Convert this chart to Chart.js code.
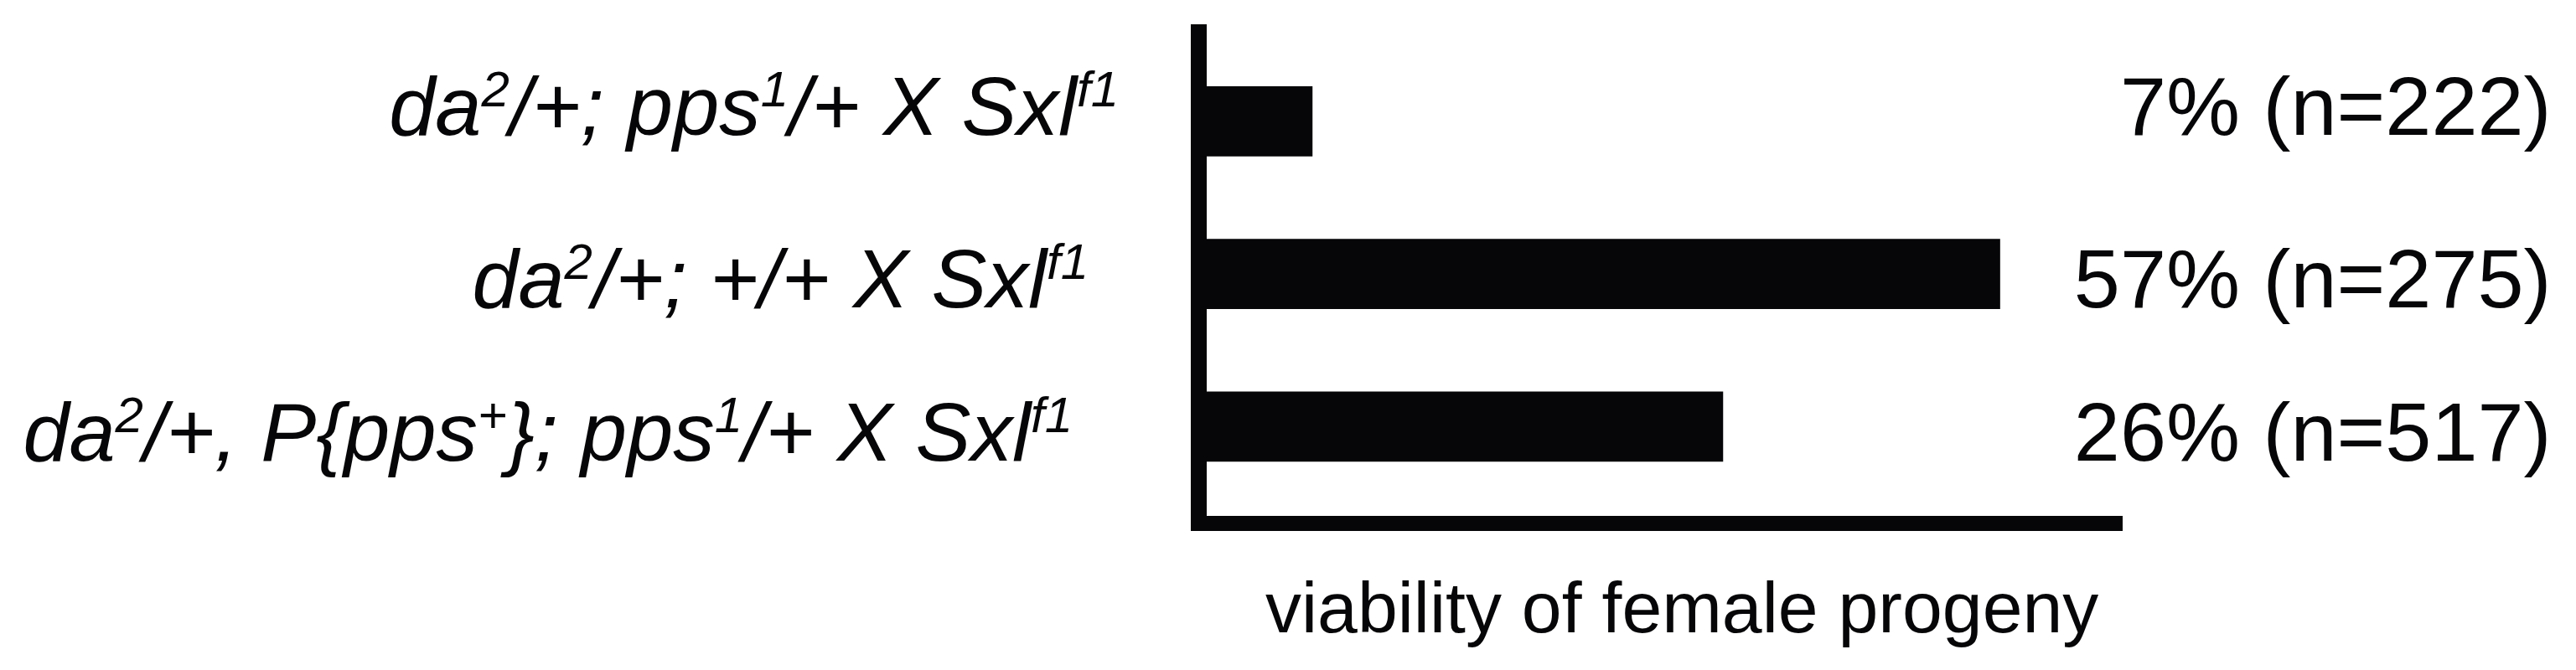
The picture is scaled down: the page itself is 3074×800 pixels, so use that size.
<!DOCTYPE html>
<html>
<head>
<meta charset="utf-8">
<script src="https://cdn.jsdelivr.net/npm/chart.js@4"></script>
<style>
  html, body { margin: 0; padding: 0; background: #fff; }
  #wrap { width: 3074px; height: 800px; position: relative; }
</style>
</head>
<body>
<div id="wrap"><canvas id="myChart"></canvas></div>
<script>
// each cross is a list of [text, superscript?] pieces
var crosses = [
  [["da"], ["2", 1], ["/+; pps"], ["1", 1], ["/+ X Sxl"], ["f1", 1]],
  [["da"], ["2", 1], ["/+; +/+ X Sxl"], ["f1", 1]],
  [["da"], ["2", 1], ["/+, P{pps"], ["+", 1], ["}; pps"], ["1", 1], ["/+ X Sxl"], ["f1", 1]]
];
var viability = ["7%", "57%", "26%"];
var counts = [222, 275, 517];
// bar lengths as drawn in the figure (not to scale with the %), in units of the 57% bar
var barLength = [8.1, 57, 37.3];
var axisTitle = "viability of female progeny";

var INK = "#060608";
var FONT = "'Liberation Sans', Arial, Helvetica, sans-serif";
// the text in the original is placed by hand, a bit off the bar centres
var rowNudge = [-19, 4, 5];
var labelGap = [95, 131, 150];

function pieceFont(p) {
  return p[1] ? "italic 60px " + FONT : "italic 99px " + FONT;
}

var rowText = {
  id: "rowText",
  afterDraw: function (chart) {
    var ctx = chart.ctx;
    var area = chart.chartArea;
    var y = chart.scales.y;
    ctx.save();
    ctx.fillStyle = INK;
    ctx.textBaseline = "alphabetic";
    crosses.forEach(function (pieces, i) {
      var base = y.getPixelForValue(i) + rowNudge[i] + 35.5;
      var w = 0;
      pieces.forEach(function (p) {
        ctx.font = pieceFont(p);
        w += ctx.measureText(p[0]).width;
      });
      var x = area.left - labelGap[i] - w;
      ctx.textAlign = "left";
      pieces.forEach(function (p) {
        ctx.font = pieceFont(p);
        ctx.fillText(p[0], x, p[1] ? base - 34 : base);
        x += ctx.measureText(p[0]).width;
      });
      ctx.font = "99px " + FONT;
      ctx.textAlign = "right";
      ctx.fillText(viability[i] + " (n=" + counts[i] + ")", area.right + 512, base);
    });
    ctx.font = "86px " + FONT;
    ctx.textAlign = "left";
    ctx.fillText(axisTitle, area.left + 80, area.bottom + 130);
    ctx.restore();
  }
};

var ctx = document.getElementById("myChart").getContext("2d");
var chart = new Chart(ctx, {
  type: "bar",
  data: {
    datasets: [{
      data: barLength.map(function (v, i) { return { x: v, y: i }; }),
      backgroundColor: INK,
      borderWidth: 0,
      barThickness: 83
    }]
  },
  options: {
    indexAxis: "y",
    responsive: true,
    maintainAspectRatio: false,
    animation: false,
    layout: { padding: { left: 1430, right: 541.5, top: 38.5, bottom: 175 } },
    plugins: {
      legend: { display: false },
      tooltip: { enabled: false }
    },
    scales: {
      x: {
        type: "linear",
        min: 0,
        max: 65.7,
        grid: { display: false, drawTicks: false },
        ticks: { display: false },
        border: { color: INK, width: 18 }
      },
      y: {
        type: "linear",
        reverse: true,
        offset: false,
        min: -0.584,
        max: 2.634,
        grid: { display: false, drawTicks: false },
        ticks: { display: false },
        border: { color: INK, width: 19 }
      }
    }
  },
  plugins: [rowText]
});
</script>
</body>
</html>
